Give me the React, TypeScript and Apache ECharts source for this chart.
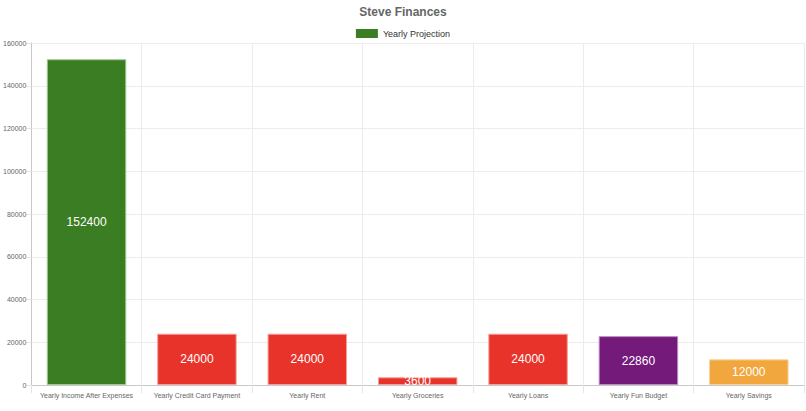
import * as echarts from "echarts"
import { useEffect, useRef } from "react"

const categories = [
  "Yearly Income After Expenses",
  "Yearly Credit Card Payment",
  "Yearly Rent",
  "Yearly Groceries",
  "Yearly Loans",
  "Yearly Fun Budget",
  "Yearly Savings",
]
const values = [152400, 24000, 24000, 3600, 24000, 22860, 12000]
const barColors = ["#3a7d22", "#e8332a", "#e8332a", "#e8332a", "#e8332a", "#741a7b", "#f1a73d"]
const borderColors = ["#9ccc8c", "#f5a09a", "#f5a09a", "#f5a09a", "#f5a09a", "#b98cc0", "#f8d29a"]
const yTicks = [0, 20000, 40000, 60000, 80000, 100000, 120000, 140000, 160000]

const FONT = "'Liberation Sans', Arial, Helvetica, sans-serif"

// Single-series bar chart styled after Chart.js defaults: light grid, value labels centred in bars.
export default function App() {
  const ref = useRef<HTMLDivElement>(null)

  useEffect(() => {
    if (!ref.current) return
    const chart = echarts.init(ref.current, null, { renderer: "svg" })

    chart.setOption({
      animation: false,
      textStyle: { fontFamily: FONT },
      title: {
        text: "Steve Finances",
        left: "center",
        top: 1,
        textStyle: { fontSize: 12, fontWeight: "bold", color: "#666", fontFamily: FONT },
      },
      legend: {
        top: 24,
        left: "center",
        itemWidth: 22,
        itemHeight: 9,
        itemGap: 10,
        icon: "rect",
        textStyle: { fontSize: 9, color: "#333", fontFamily: FONT },
        data: [{ name: "Yearly Projection", itemStyle: { color: "#3a7d22" } }],
      },
      grid: { left: 31, right: 2, top: 43, bottom: 26, containLabel: false },
      xAxis: {
        type: "category",
        data: categories,
        axisLine: { lineStyle: { color: "#c8c8c8" } },
        axisTick: { show: true, length: 8, lineStyle: { color: "#e6e6e6" } },
        axisLabel: { fontSize: 7, color: "#666", margin: 7, fontFamily: FONT, interval: 0 },
        splitLine: { show: true, lineStyle: { color: "#ececec" } },
      },
      yAxis: {
        type: "value",
        min: yTicks[0],
        max: yTicks[yTicks.length - 1],
        interval: yTicks[1] - yTicks[0],
        axisLine: { show: true, lineStyle: { color: "#c8c8c8" } },
        axisTick: { show: true, length: 5, lineStyle: { color: "#e6e6e6" } },
        axisLabel: {
          fontSize: 7,
          color: "#666",
          margin: 5,
          fontFamily: FONT,
          formatter: (v: number) => String(v),
        },
        splitLine: { show: true, lineStyle: { color: "#ececec" } },
      },
      series: [
        {
          name: "Yearly Projection",
          type: "bar",
          barWidth: "72%",
          data: values.map((v, i) => ({
            value: v,
            itemStyle: { color: barColors[i], borderColor: borderColors[i], borderWidth: 1 },
          })),
          label: {
            show: true,
            position: "inside",
            color: "#fff",
            fontSize: 12,
            fontFamily: FONT,
          },
        },
      ],
    })

    return () => chart.dispose()
  }, [])

  return (
    <div
      ref={ref}
      style={{ position: "fixed", left: 0, top: 0, width: 806, height: 411, background: "#fff" }}
    />
  )
}
